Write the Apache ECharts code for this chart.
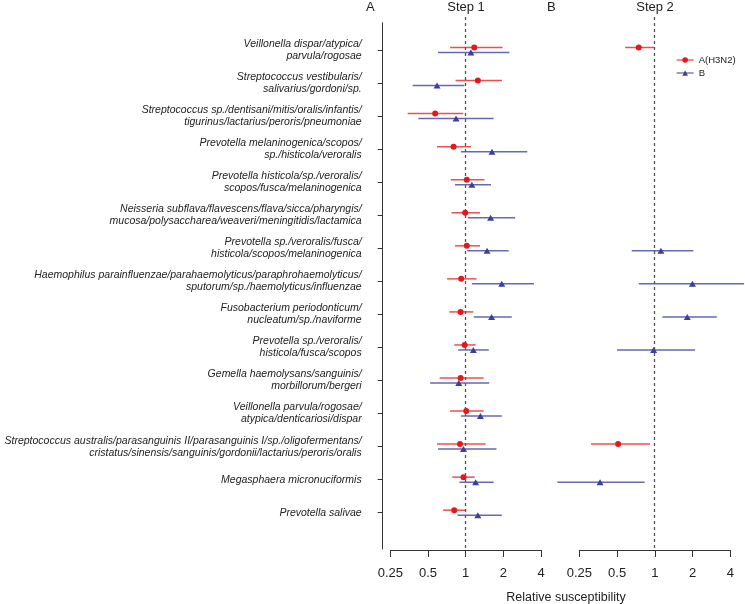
<!DOCTYPE html>
<html><head><meta charset="utf-8">
<script src="https://cdn.jsdelivr.net/npm/echarts@6/dist/echarts.min.js"></script>
<style>html,body{margin:0;padding:0;background:#fff}#c{width:745px;height:604px}</style>
</head><body><div id="c"></div>
<script>
// ---------- DATA ----------
const categories = [
  "Veillonella dispar/atypica/\nparvula/rogosae",
  "Streptococcus vestibularis/\nsalivarius/gordoni/sp.",
  "Streptococcus sp./dentisani/mitis/oralis/infantis/\ntigurinus/lactarius/peroris/pneumoniae",
  "Prevotella melaninogenica/scopos/\nsp./histicola/veroralis",
  "Prevotella histicola/sp./veroralis/\nscopos/fusca/melaninogenica",
  "Neisseria subflava/flavescens/flava/sicca/pharyngis/\nmucosa/polysaccharea/weaveri/meningitidis/lactamica",
  "Prevotella sp./veroralis/fusca/\nhisticola/scopos/melaninogenica",
  "Haemophilus parainfluenzae/parahaemolyticus/paraphrohaemolyticus/\nsputorum/sp./haemolyticus/influenzae",
  "Fusobacterium periodonticum/\nnucleatum/sp./naviforme",
  "Prevotella sp./veroralis/\nhisticola/fusca/scopos",
  "Gemella haemolysans/sanguinis/\nmorbillorum/bergeri",
  "Veillonella parvula/rogosae/\natypica/denticariosi/dispar",
  "Streptococcus australis/parasanguinis II/parasanguinis I/sp./oligofermentans/\ncristatus/sinensis/sanguinis/gordonii/lactarius/peroris/oralis",
  "Megasphaera micronuciformis",
  "Prevotella salivae"
];
const seriesNames = ["A(H3N2)", "B"];
const xTickValues = [0.25, 0.5, 1, 2, 4];

// Step 1
const step1_H3N2_est = [1.17, 1.25, 0.57, 0.80, 1.02, 0.99, 1.02, 0.92, 0.91, 0.98, 0.91, 1.01, 0.90, 0.96, 0.81];
const step1_H3N2_lo  = [0.75, 0.83, 0.344, 0.59, 0.76, 0.77, 0.82, 0.71, 0.74, 0.81, 0.62, 0.75, 0.59, 0.78, 0.66];
const step1_H3N2_hi  = [1.97, 1.95, 0.953, 1.10, 1.41, 1.30, 1.30, 1.22, 1.15, 1.20, 1.39, 1.39, 1.44, 1.18, 1.01];
const step1_B_est = [1.10, 0.59, 0.837, 1.62, 1.12, 1.58, 1.48, 1.94, 1.61, 1.15, 0.88, 1.31, 0.96, 1.20, 1.25];
const step1_B_lo  = [0.60, 0.377, 0.418, 0.917, 0.82, 1.04, 1.03, 1.12, 1.16, 0.87, 0.52, 0.917, 0.60, 0.89, 0.86];
const step1_B_hi  = [2.23, 0.975, 1.67, 3.10, 1.59, 2.48, 2.20, 3.51, 2.33, 1.53, 1.54, 1.94, 1.76, 1.67, 1.94];

// Step 2
const step2_H3N2_est = [0.745, null, null, null, null, null, null, null, null, null, null, null, 0.51, null, null];
const step2_H3N2_lo  = [0.58, null, null, null, null, null, null, null, null, null, null, null, 0.31, null, null];
const step2_H3N2_hi  = [0.99, null, null, null, null, null, null, null, null, null, null, null, 0.918, null, null];
const step2_B_est = [null, null, null, null, null, null, 1.12, 2.00, 1.82, 0.98, null, null, null, 0.366, null];
const step2_B_lo  = [null, null, null, null, null, null, 0.655, 0.745, 1.15, 0.50, null, null, null, 0.167, null];
const step2_B_hi  = [null, null, null, null, null, null, 2.03, 5.17, 3.13, 2.10, null, null, null, 0.83, null];

// ---------- LAYOUT / STYLE ----------
const FONT = "'Liberation Sans', Arial, Helvetica, sans-serif";
const RED = '#e5171d', RED_BAR = 'rgba(235,35,35,0.8)';
const BLUE = '#3a3e9c', BLUE_BAR = 'rgba(62,68,160,0.8)';
const TXT = '#222';
const PX = 37.7;            // px per doubling
const TOP = 16.95, BOTTOM = 550, ROWPX = 33.05;
const aLeft = 382.7, aW = 166, aTick0 = 390.33;
const bLeft = 550, bW = 195, bTick0 = 579.33;
const yMax = (BOTTOM - TOP) / ROWPX;

function pts(est){ const o=[]; est.forEach((v,i)=>{ if(v!=null) o.push([v,i+1]); }); return o; }
function bars(lo,hi){ const o=[]; lo.forEach((v,i)=>{ if(v!=null) o.push([v,hi[i],i+1]); }); return o; }
function errRender(color, dy){
  return function(params, api){
    const a = api.coord([api.value(0), api.value(2)]);
    const b = api.coord([api.value(1), api.value(2)]);
    return {type:'line', shape:{x1:a[0], y1:a[1]+dy, x2:b[0], y2:b[1]+dy},
            style:{stroke:color, lineWidth:1.5}};
  };
}
const minExpA = -2 - (aTick0 - aLeft)/PX, maxExpA = minExpA + aW/PX;
const minExpB = -2 - (bTick0 - bLeft)/PX, maxExpB = minExpB + bW/PX;

const hiddenVal = (gi, extra) => Object.assign({type:'value', gridIndex:gi, show:false, min:0, max:1}, extra||{});
const hiddenLog = (gi, lo, hi) => ({type:'log', logBase:2, gridIndex:gi, min:Math.pow(2,lo), max:Math.pow(2,hi), show:false,
  axisLine:{show:false}, axisTick:{show:false}, axisLabel:{show:false}, splitLine:{show:false}});
const shownLog = (gi) => ({type:'log', logBase:2, gridIndex:gi, min:xTickValues[0], max:xTickValues[xTickValues.length-1],
  axisLine:{show:true, lineStyle:{color:'#333', width:1}},
  axisTick:{show:true, length:7, lineStyle:{color:'#333', width:1}},
  axisLabel:{show:true, margin:17, fontSize:13, color:TXT, fontFamily:FONT,
    formatter: v => String(+(+v).toPrecision(3))},
  splitLine:{show:false}, minorTick:{show:false}});

function panelSeries(gi, h3est, h3lo, h3hi, best, blo, bhi){
  return [
    {type:'custom', name:'errA'+gi, xAxisIndex:gi, yAxisIndex:gi, renderItem: errRender(RED_BAR, -2.5),
     encode:{x:[0,1], y:2}, data: bars(h3lo,h3hi), z:2, silent:true,
     markLine:{silent:true, symbol:['none','none'], label:{show:false},
       lineStyle:{type:[3,3], color:'#555', width:1.3}, data:[{xAxis:1}]}},
    {type:'custom', name:'errB'+gi, xAxisIndex:gi, yAxisIndex:gi, renderItem: errRender(BLUE_BAR, 2.5),
     encode:{x:[0,1], y:2}, data: bars(blo,bhi), z:2, silent:true},
    {type:'line', name:seriesNames[0], xAxisIndex:gi, yAxisIndex:gi,
     symbol:'circle', symbolSize:6, symbolOffset:[0,-2.5], itemStyle:{color:RED},
     lineStyle:{color:RED_BAR, width:0, opacity:0}, data: pts(h3est), z:3},
    {type:'line', name:seriesNames[1], xAxisIndex:gi, yAxisIndex:gi,
     symbol:'triangle', symbolSize:[7,6], symbolOffset:[0,2.5], itemStyle:{color:BLUE},
     lineStyle:{color:BLUE_BAR, width:0, opacity:0}, data: pts(best), z:3}
  ];
}

const titleStyle = {fontSize:13, fontWeight:'normal', color:TXT, fontFamily:FONT};
const option = {
  animation:false,
  backgroundColor:'#fff',
  textStyle:{fontFamily:FONT},
  title:[
    {text:'A', left:366, top:1, padding:0, textStyle:titleStyle},
    {text:'Step 1', left:466, top:1, padding:0, textAlign:'center', textStyle:titleStyle},
    {text:'B', left:547, top:1, padding:0, textStyle:titleStyle},
    {text:'Step 2', left:655, top:1, padding:0, textAlign:'center', textStyle:titleStyle},
    {text:'Relative susceptibility', left:561, top:586, textAlign:'center', textStyle:{fontSize:12.5, fontWeight:'normal', color:TXT, fontFamily:FONT}}
  ],
  legend:{data:seriesNames, orient:'vertical', left:676, top:55, padding:0, itemWidth:17, itemHeight:7, itemGap:3,
    lineStyle:{width:1.3, opacity:1},
    textStyle:{fontSize:9.5, color:TXT, fontFamily:FONT, lineHeight:8}},
  grid:[
    {left:aLeft, top:TOP, width:aW, height:BOTTOM-TOP},
    {left:bLeft, top:TOP, width:bW, height:BOTTOM-TOP},
    {left:aLeft, top:22.7, width:10, height:526.3},
    {left:aLeft, top:50-ROWPX/2, width:10, height:ROWPX*15},
    {left:aTick0, top:500, width:150.67, height:50},
    {left:bTick0, top:500, width:151, height:50}
  ],
  xAxis:[
    hiddenLog(0, minExpA, maxExpA),
    hiddenLog(1, minExpB, maxExpB),
    hiddenVal(2), hiddenVal(3),
    shownLog(4), shownLog(5)
  ],
  yAxis:[
    {type:'value', gridIndex:0, inverse:true, min:0, max:yMax, show:false},
    {type:'value', gridIndex:1, inverse:true, min:0, max:yMax, show:false},
    {type:'value', gridIndex:2, min:0, max:1, axisLine:{show:true, lineStyle:{color:'#333', width:1}},
      axisTick:{show:false}, axisLabel:{show:false}, splitLine:{show:false}},
    {type:'category', gridIndex:3, inverse:true, data:categories,
      axisLine:{show:false}, axisTick:{show:true, alignWithLabel:true, length:5, lineStyle:{color:'#333'}},
      axisLabel:{show:true, margin:21, fontSize:10.5, fontStyle:'italic', color:TXT, fontFamily:FONT, lineHeight:12, interval:0, padding:[3,0,0,0]},
      splitLine:{show:false}},
    hiddenVal(4), hiddenVal(5)
  ],
  series:[].concat(
    panelSeries(0, step1_H3N2_est, step1_H3N2_lo, step1_H3N2_hi, step1_B_est, step1_B_lo, step1_B_hi),
    panelSeries(1, step2_H3N2_est, step2_H3N2_lo, step2_H3N2_hi, step2_B_est, step2_B_lo, step2_B_hi)
  )
};
const chart = echarts.init(document.getElementById('c'), null, {renderer:'canvas'});
chart.setOption(option);
</script>
</body></html>
